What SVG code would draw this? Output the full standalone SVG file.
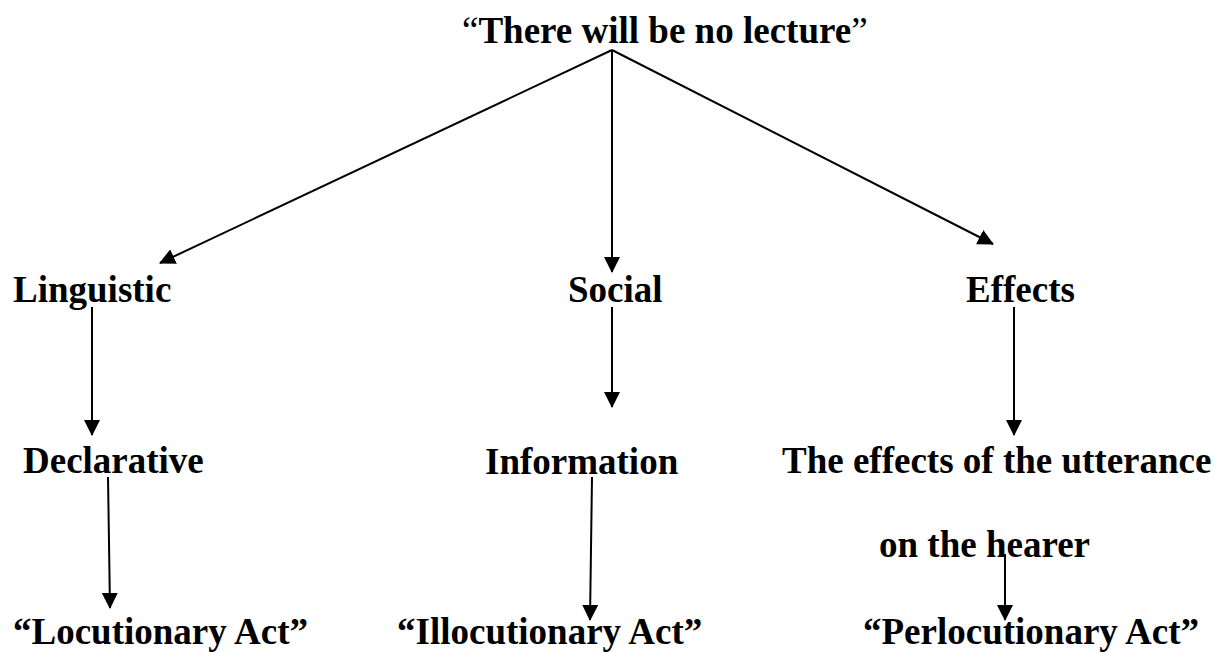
<svg xmlns="http://www.w3.org/2000/svg" width="1215" height="652" viewBox="0 0 1215 652">
<style>
text{font-family:"Liberation Serif","Times New Roman",serif;font-size:37px;font-weight:bold;fill:#000}
.q{font-weight:normal}
.c{stroke:#000;stroke-width:2;fill:none}
</style>
<defs>
<marker id="ah" viewBox="0 0 16 16" refX="15" refY="8" markerWidth="16" markerHeight="16" markerUnits="userSpaceOnUse" orient="auto">
<path d="M0,0 L16,8 L0,16 Z" fill="#000"/>
</marker>
</defs>
<rect width="1215" height="652" fill="#fff"/>
<g id="title"><text x="462" y="43"><tspan class="q">“</tspan>There will be no lecture<tspan class="q">”</tspan></text></g>
<g id="linguistic"><text x="13" y="302">Linguistic</text></g>
<g id="social"><text x="568" y="302">Social</text></g>
<g id="effects"><text x="966" y="302">Effects</text></g>
<g id="declarative"><text x="23" y="473">Declarative</text></g>
<g id="information"><text x="485" y="474">Information</text></g>
<g id="effects-utterance"><text x="782" y="473">The effects of the utterance</text><text x="879" y="557">on the hearer</text></g>
<g id="locutionary"><text x="13" y="644">“Locutionary Act”</text></g>
<g id="illocutionary"><text x="397" y="644">“Illocutionary Act”</text></g>
<g id="perlocutionary"><text x="863" y="644">“Perlocutionary Act”</text></g>
<g id="connectors">
<path class="c" d="M612,50 L160,263" marker-end="url(#ah)"/>
<path class="c" d="M612,50 L612,272" marker-end="url(#ah)"/>
<path class="c" d="M612,50 L993,244" marker-end="url(#ah)"/>
<path class="c" d="M92,307 L92,435" marker-end="url(#ah)"/>
<path class="c" d="M612,307 L612,407" marker-end="url(#ah)"/>
<path class="c" d="M1014,307 L1014,435" marker-end="url(#ah)"/>
<path class="c" d="M108,477 L110,608" marker-end="url(#ah)"/>
<path class="c" d="M592,477 L590,620" marker-end="url(#ah)"/>
<path class="c" d="M1005,554 L1005,620" marker-end="url(#ah)"/>
</g>
</svg>
